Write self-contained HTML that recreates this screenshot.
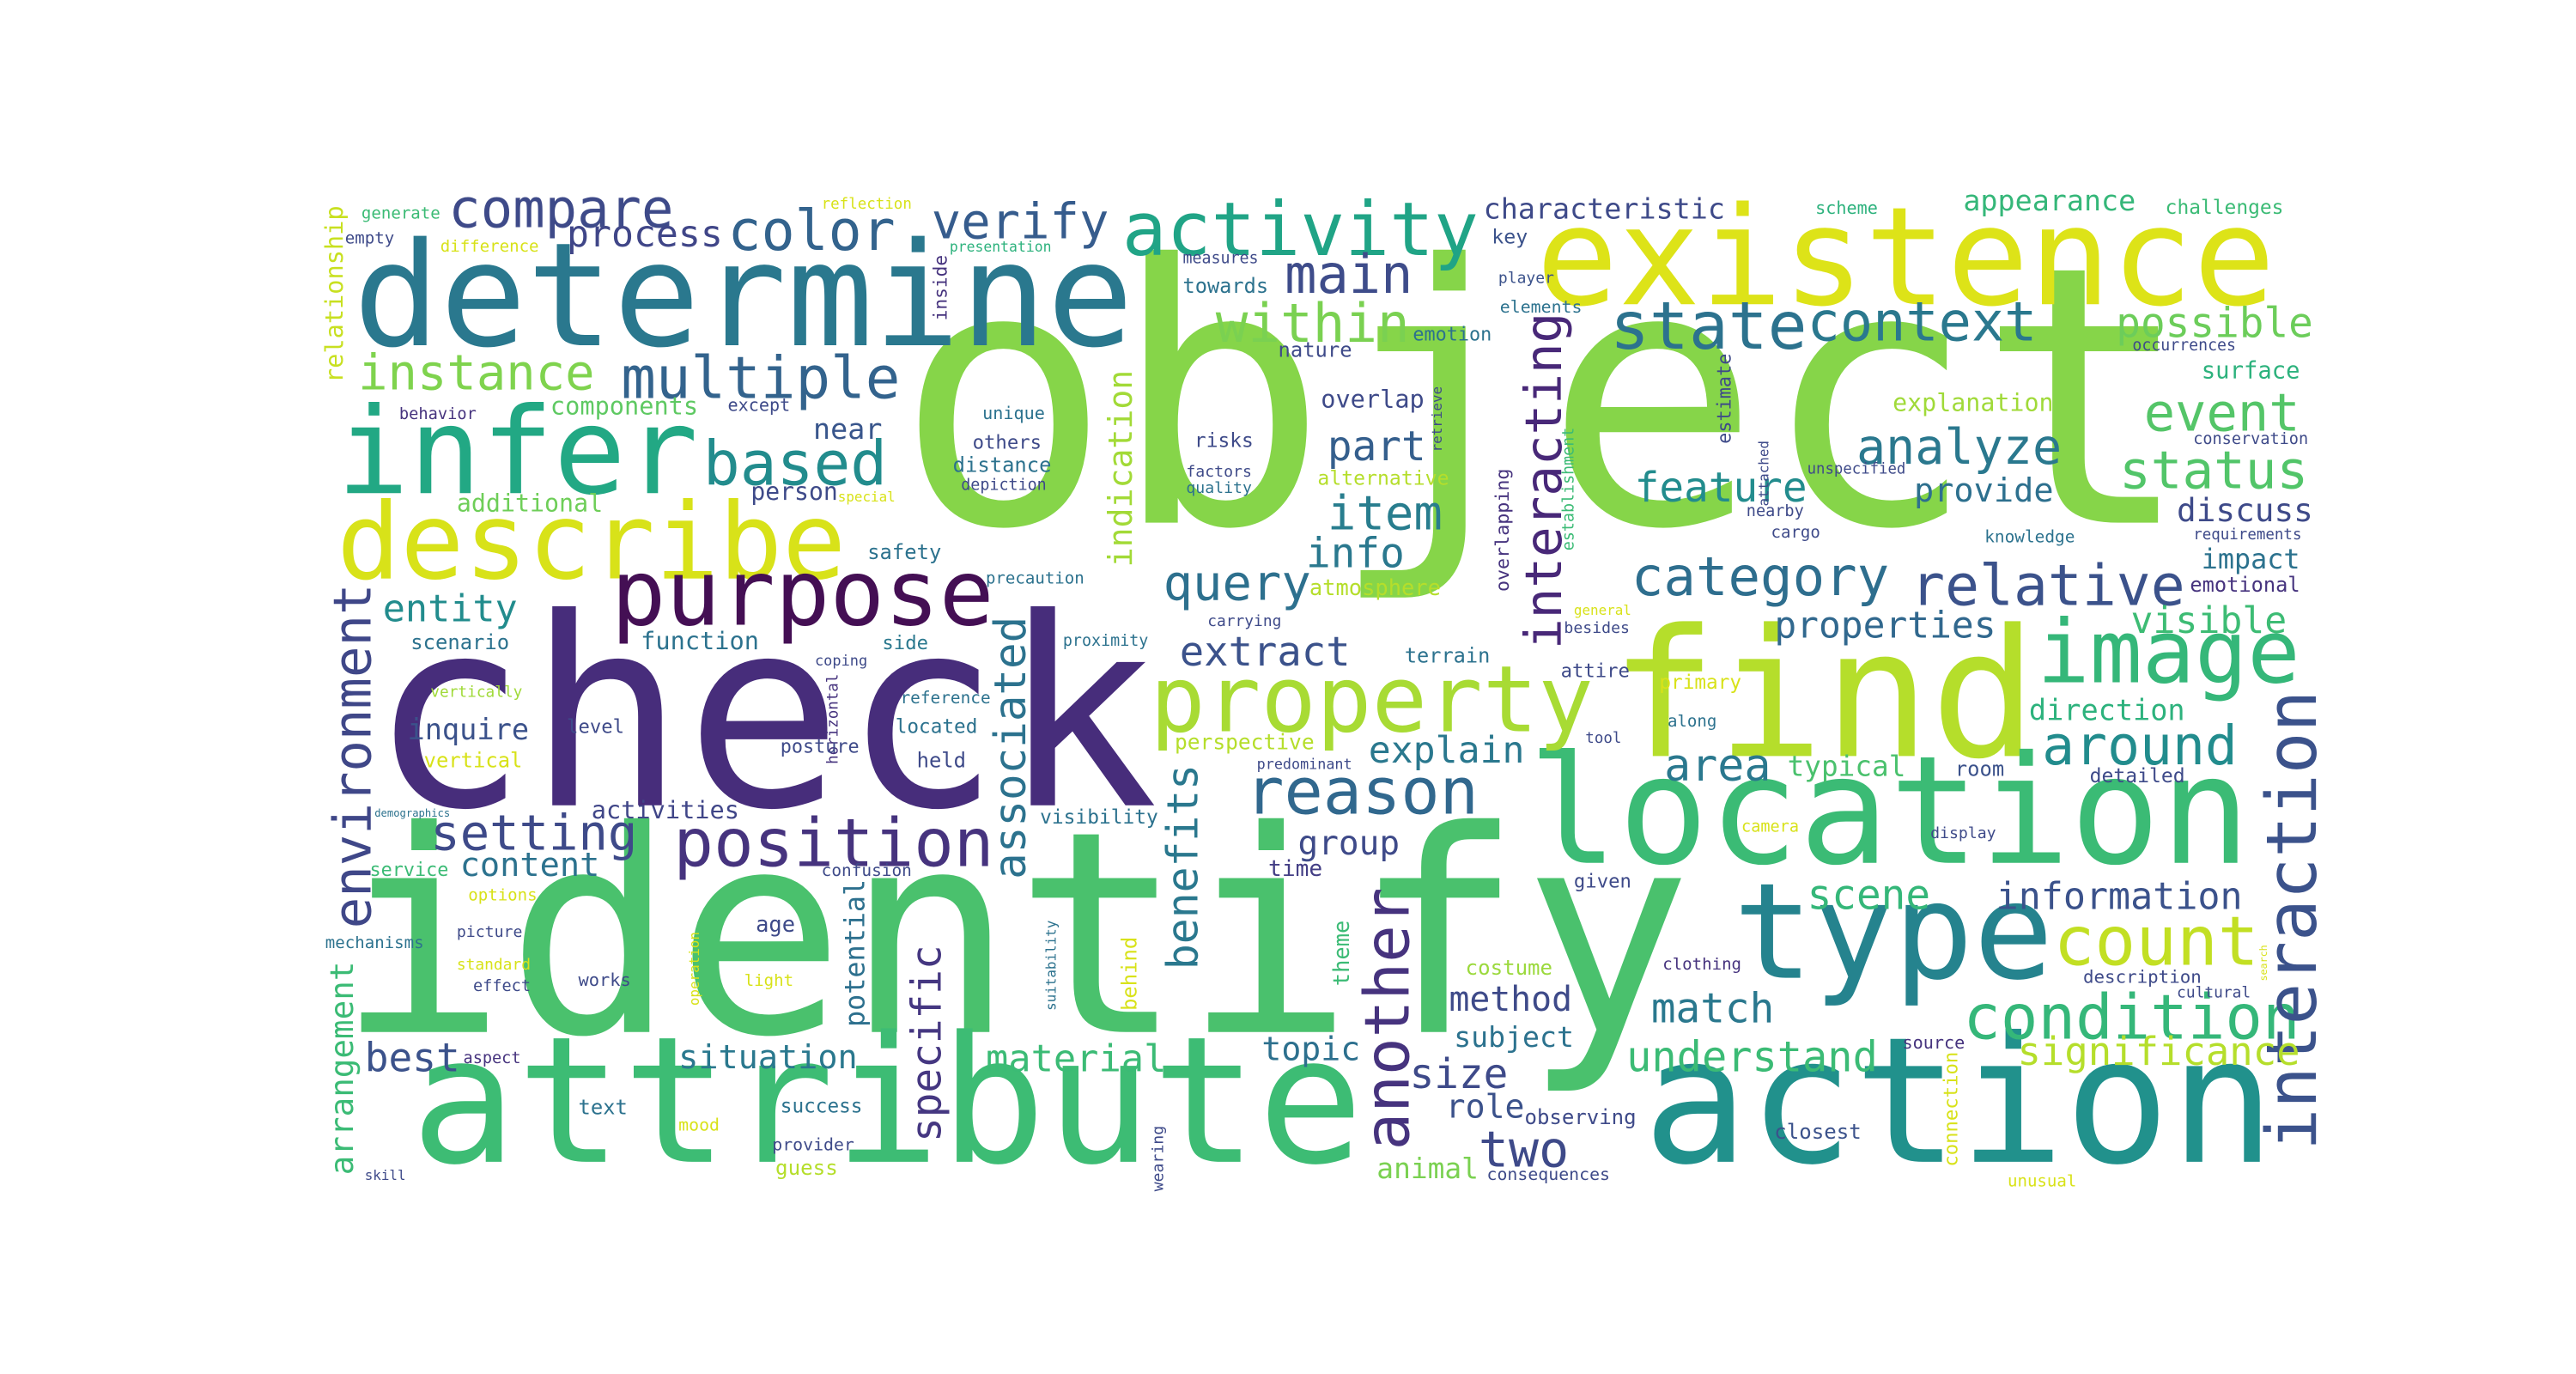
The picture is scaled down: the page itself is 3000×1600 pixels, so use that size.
<!DOCTYPE html>
<html><head><meta charset="utf-8"><style>
html,body{margin:0;padding:0;background:#fff;}
svg{display:block}
text{font-family:"DejaVu Sans Mono","Liberation Mono",monospace;}
</style></head>
<body>
<svg id="cloud" width="3000" height="1600" viewBox="0 0 1568 836" xmlns="http://www.w3.org/2000/svg">
<rect width="1568" height="836" fill="#fff"/>
</svg>
<script>
// word list
const words = ["object","identify","check","determine","existence","find","location","attribute","action","type","infer","describe","purpose","property","image","activity","count","condition","interaction","environment","position","reason","query","state","context","compare","process","color","verify","main","within","instance","multiple","based","near","part","item","info","interacting","analyze","feature","category","relative","possible","event","status","discuss","impact","emotional","visible","properties","direction","around","area","typical","room","detailed","explain","perspective","extract","associated","benefits","another","group","time","theme","setting","content","entity","scenario","function","inquire","level","vertical","vertically","activities","best","arrangement","situation","potential","specific","material","topic","size","role","two","method","subject","observing","animal","costume","match","understand","scene","information","significance","description","closest","clothing","appearance","challenges","characteristic","key","surface","explanation","provide","overlap","indication","risks","additional","behavior","components","person","relationship","side","reflection","generate","empty","difference","presentation","inside","measures","towards","player","elements","emotion","nature","scheme","occurrences","unique","except","others","distance","depiction","factors","quality","alternative","retrieve","establishment","overlapping","estimate","attached","unspecified","conservation","requirements","knowledge","nearby","cargo","special","safety","precaution","proximity","atmosphere","carrying","terrain","attire","general","besides","primary","along","tool","predominant","coping","horizontal","reference","located","held","posture","confusion","visibility","demographics","service","options","mechanisms","picture","standard","effect","works","age","light","operation","suitability","behind","aspect","text","mood","skill","success","provider","guess","wearing","consequences","connection","unusual","source","cultural","search","display","given","camera"];
// layout: [x, y, length, vertical]; horizontal: x=left, y=baseline; vertical: x=column center, y=bottom
const layout = [[545,318,790,0],[205,628,825,0],[225,490,480,0],[215,210,475,0],[935,185,450,0],[980,460,260,0],[930,525,440,0],[250,707,580,0],[1000,707,385,0],[1055,595,195,0],[205,300,220,0],[205,352,310,0],[372,380,233,0],[700,445,270,0],[1240,415,160,0],[683,155,217,0],[1250,587,125,0],[1195,632,205,0],[1397,700,280,1],[216,565,210,1],[410,527,195,0],[758,495,142,0],[708,365,90,0],[980,212,120,0],[1100,207,140,0],[273,138,137,0],[345,150,95,0],[443,152,102,0],[567,145,108,0],[782,178,78,0],[740,208,118,0],[218,237,144,0],[378,242,170,0],[428,295,112,0],[495,267,42,0],[808,280,60,0],[808,322,70,0],[795,345,60,0],[941,395,205,1],[1130,282,125,0],[995,305,105,0],[993,362,157,0],[1163,368,167,0],[1288,205,120,0],[1305,262,95,0],[1290,297,115,0],[1325,317,83,0],[1340,346,60,0],[1333,360,67,0],[1297,385,95,0],[1080,388,135,0],[1235,438,95,0],[1243,465,119,0],[1013,475,65,0],[1088,472,72,0],[1190,472,30,0],[1272,476,58,0],[833,464,95,0],[715,456,85,0],[718,405,104,0],[616,535,160,1],[721,590,125,1],[846,700,160,1],[790,520,62,0],[772,533,33,0],[817,600,40,1],[262,517,126,0],[280,533,85,0],[233,378,82,0],[250,395,60,0],[390,395,72,0],[248,450,74,0],[345,446,35,0],[258,467,60,0],[262,424,56,0],[360,498,90,0],[222,652,58,0],[209,715,130,1],[413,650,109,0],[521,625,90,1],[565,695,120,1],[600,652,110,0],[768,645,60,0],[858,662,60,0],[880,680,48,0],[900,710,55,0],[882,615,75,0],[885,637,73,0],[928,684,68,0],[838,717,62,0],[892,593,53,0],[1005,622,75,0],[990,652,153,0],[1100,553,75,0],[1215,553,150,0],[1228,648,172,0],[1268,598,72,0],[1080,693,53,0],[1012,590,48,0],[1195,128,105,0],[1318,130,72,0],[903,133,147,0],[908,148,22,0],[1340,230,60,0],[1152,250,98,0],[1165,305,85,0],[804,248,63,0],[683,345,120,1],[727,272,36,0],[278,311,89,0],[243,255,47,0],[335,252,90,0],[457,304,53,0],[204,233,108,1],[537,395,28,0],[500,127,55,0],[220,133,48,0],[210,148,30,0],[268,153,60,0],[578,153,62,0],[573,195,40,1],[720,160,46,0],[720,178,52,0],[912,172,34,0],[913,190,50,0],[860,207,48,0],[778,217,45,0],[1105,130,38,0],[1298,213,63,0],[598,255,38,0],[443,250,38,0],[592,273,42,0],[580,287,60,0],[585,298,52,0],[722,290,40,0],[722,300,40,0],[802,295,80,0],[875,275,40,1],[955,335,75,1],[915,360,75,1],[1050,270,55,1],[1074,308,40,1],[1100,288,60,0],[1335,270,70,0],[1335,328,66,0],[1208,330,55,0],[1063,314,35,0],[1078,327,30,0],[510,305,35,0],[528,340,45,0],[600,355,60,0],[647,393,52,0],[797,362,80,0],[735,381,45,0],[855,403,52,0],[950,412,42,0],[958,374,35,0],[952,385,40,0],[1010,419,50,0],[1015,442,30,0],[965,452,22,0],[765,468,58,0],[496,405,32,0],[507,465,55,1],[548,428,55,0],[545,446,50,0],[558,467,30,0],[475,458,48,0],[500,533,55,0],[633,501,72,0],[228,497,46,0],[225,533,48,0],[285,548,42,0],[198,577,60,0],[278,570,40,0],[278,590,45,0],[288,603,35,0],[352,600,32,0],[460,567,24,0],[453,600,30,0],[423,612,45,1],[640,615,55,1],[688,615,45,1],[282,647,35,0],[352,678,30,0],[413,688,25,0],[222,718,25,0],[475,677,50,0],[470,700,50,0],[472,715,38,0],[705,725,40,1],[905,718,75,0],[1188,710,70,1],[1222,722,42,0],[1158,638,38,0],[1325,607,45,0],[1378,597,22,1],[1175,510,40,0],[958,540,35,0],[1060,506,35,0]];
// colours (viridis)
const colors = ["#86d549","#4ac16d","#472d7b","#2a788e","#dde318","#b5de2b","#3bbb75","#3dbc74","#21918c","#25838e","#22a884","#d8e219","#440f54","#a8db34","#35b779","#20a486","#c2df23","#35b779","#3b528b","#3f4788","#46337e","#31688e","#2d708e","#2c728e","#2a788e","#3e4a89","#404688","#33638d","#365c8d","#3e4c8a","#7ad151","#7fd34e","#33638d","#228c8d","#39568c","#355f8d","#287d8e","#2a788e","#482878","#2a788e","#228c8d","#2e6e8e","#3b528b","#6ccd5a","#54c568","#52c569","#3e4a89","#2c728e","#46337e","#3dbc74","#31688e","#2db27d","#228c8d","#2a788e","#4ac16d","#3b528b","#3e4a89","#2a788e","#b5de2b","#3b528b","#2c728e","#2a788e","#46337e","#3e4a89","#433e85","#3bbb75","#3e4a89","#2c728e","#228c8d","#2c728e","#2c728e","#3b528b","#3e4a89","#d8e219","#a0da39","#404688","#3b528b","#3bbb75","#2a788e","#2d708e","#453781","#3bbb75","#2d708e","#3e4a89","#3b528b","#3e4a89","#3e4a89","#2c728e","#3e4a89","#7ad151","#9bd93c","#2a788e","#3bbb75","#35b779","#3b528b","#b5de2b","#3e4a89","#3b528b","#46337e","#35b779","#3bbb75","#3e4a89","#3b528b","#2db27d","#a0da39","#2d708e","#3e4a89","#a2da37","#3e4a89","#6ece58","#46337e","#5ec962","#3e4a89","#c8e020","#2a788e","#d8e219","#3bbb75","#3e4a89","#d8e219","#2db27d","#46337e","#3e4a89","#2c728e","#3b528b","#2c728e","#2c728e","#3e4a89","#2db27d","#3e4a89","#2c728e","#3e4a89","#3e4a89","#2c728e","#3e4a89","#3e4a89","#2c728e","#b5de2b","#3e4a89","#3bbb75","#46337e","#3e4a89","#3e4a89","#3e4a89","#3e4a89","#3e4a89","#2c728e","#3e4a89","#3e4a89","#d8e219","#2c728e","#2c728e","#2c728e","#b5de2b","#3e4a89","#2c728e","#3e4a89","#d8e219","#3e4a89","#d8e219","#2c728e","#3e4a89","#3e4a89","#3e4a89","#46337e","#2c728e","#2c728e","#3e4a89","#3e4a89","#3e4a89","#2c728e","#2c728e","#3bbb75","#d8e219","#2c728e","#3e4a89","#d8e219","#3e4a89","#3e4a89","#3e4a89","#d8e219","#d8e219","#2c728e","#d8e219","#46337e","#2c728e","#d8e219","#3e4a89","#2c728e","#3e4a89","#b5de2b","#3e4a89","#3e4a89","#d8e219","#d8e219","#46337e","#3e4a89","#d8e219","#3e4a89","#3e4a89","#d8e219"];

const svg = document.getElementById('cloud');
const NS = 'http://www.w3.org/2000/svg';
words.forEach((w, i) => {
  const L = layout[i];
  if (!L) return;
  const len = L[2];
  const fs = len / (w.length * 0.602);
  const t = document.createElementNS(NS, 'text');
  t.textContent = w;
  t.setAttribute('font-size', fs.toFixed(2));
  t.setAttribute('fill', colors[i] || '#3e4a89');
  t.setAttribute('textLength', len);
  t.setAttribute('lengthAdjust', 'spacingAndGlyphs');
  if (L[3]) {
    const bx = L[0] + 0.3 * fs;
    t.setAttribute('transform', 'translate(' + bx.toFixed(2) + ',' + L[1] + ') rotate(-90)');
    t.setAttribute('x', 0);
    t.setAttribute('y', 0);
  } else {
    t.setAttribute('x', L[0]);
    t.setAttribute('y', L[1]);
  }
  
  
  svg.appendChild(t);
});
</script>
</body></html>
